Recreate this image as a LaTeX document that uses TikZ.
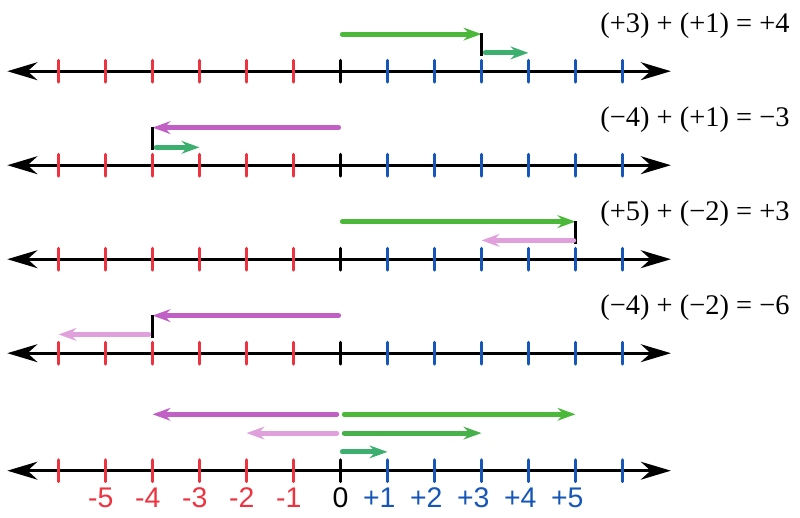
\documentclass[tikz,border=0pt]{standalone}
\usepackage{fontspec}
\setmainfont{Liberation Serif}
\setsansfont{Liberation Sans}
\usetikzlibrary{arrows.meta}

\definecolor{negred}{HTML}{EE3340}
\definecolor{posblue}{HTML}{1556B8}
\definecolor{biggreen}{HTML}{4CB83A}
\definecolor{midgreen}{HTML}{46B04A}
\definecolor{smallgreen}{HTML}{3CAE6E}
\definecolor{backpurple}{HTML}{C060C4}
\definecolor{lightpurple}{HTML}{E0A0DC}

\begin{document}
\begin{tikzpicture}[x=1cm,y=1cm,
    numline/.style={line width=2pt,
      {Stealth[length=0.64cm,width=0.38cm]}-{Stealth[length=0.64cm,width=0.38cm]}},
    tickmark/.style={line width=2pt, line cap=round},
    jump/.style={line width=3pt, line cap=round, -{Stealth[length=0.38cm,width=0.27cm]}},
    turn/.style={line width=1.6pt},
    sumtext/.style={anchor=east, inner sep=0pt, font=\fontsize{17.2}{18}\selectfont},
    numtext/.style={inner sep=0pt, font=\sffamily\fontsize{17.2}{18}\selectfont}]
      \useasboundingbox (-7.245,-1.006) rectangle (9.777,10.015);

      \foreach \y in {0,2.5,4.5,6.5,8.5} {
        \draw[numline] (-7.09,\y) -- (7.03,\y);
        \foreach \i in {-6,...,-1}
          \draw[tickmark,negred] (\i,\y-0.23) -- (\i,\y+0.23);
        \draw[tickmark] (0,\y-0.23) -- (0,\y+0.23);
        \foreach \i in {1,...,6}
          \draw[tickmark,posblue] (\i,\y-0.23) -- (\i,\y+0.23);
      }

      \draw[jump,biggreen] (0.04,9.29) -- (3,9.29);
      \draw[turn] (3,8.83) -- (3,9.32);
      \draw[jump,smallgreen] (3.08,8.89) -- (4,8.89);
      \node[sumtext] (sum1) at (9.56,9.47) {(+3) + (+1) = +4};

      \draw[jump,backpurple] (-0.04,7.3) -- (-4,7.3);
      \draw[turn] (-4,6.83) -- (-4,7.32);
      \draw[jump,smallgreen] (-3.92,6.88) -- (-3,6.88);
      \node[sumtext] (sum2) at (9.56,7.47) {(−4) + (+1) = −3};

      \draw[jump,biggreen] (0.04,5.3) -- (5,5.3);
      \draw[turn] (5,4.83) -- (5,5.32);
      \draw[jump,lightpurple] (4.96,4.9) -- (3,4.9);
      \node[sumtext] (sum3) at (9.56,5.47) {(+5) + (−2) = +3};

      \draw[jump,backpurple] (-0.04,3.3) -- (-4,3.3);
      \draw[turn] (-4,2.83) -- (-4,3.32);
      \draw[jump,lightpurple] (-4.08,2.9) -- (-6,2.9);
      \node[sumtext] (sum4) at (9.56,3.47) {(−4) + (−2) = −6};

      \draw[jump,backpurple] (-0.08,1.2) -- (-4,1.2);
      \draw[jump,biggreen] (0.08,1.2) -- (5,1.2);
      \draw[jump,lightpurple] (-0.08,0.8) -- (-2,0.8);
      \draw[jump,midgreen] (0.08,0.8) -- (3,0.8);
      \draw[jump,smallgreen] (0.04,0.4) -- (1,0.4);

      \foreach \i in {1,...,5} {
        \node[numtext,negred] (neg\i) at (-\i,-0.58) {\llap{-}\i};
        \node[numtext,posblue] (pos\i) at (\i,-0.58) {\llap{+}\i};
      }
      \node[numtext] (zero) at (0,-0.58) {0};
    \end{tikzpicture}
\end{document}
